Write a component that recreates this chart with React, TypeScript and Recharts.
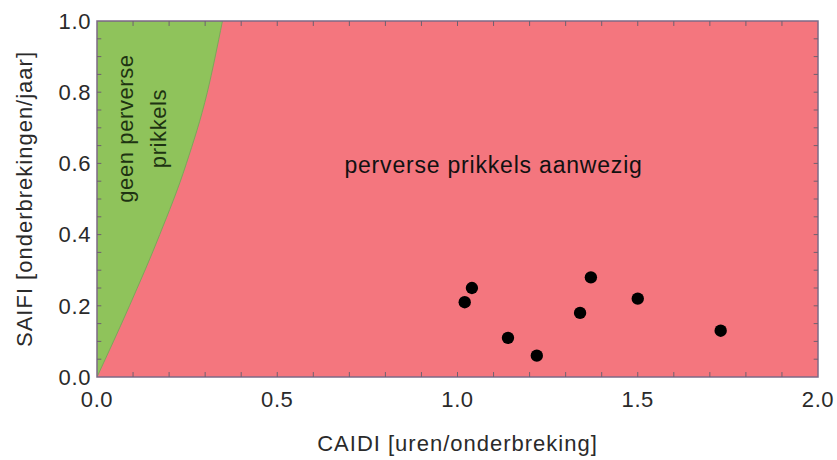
import {
  ComposedChart,
  Area,
  Scatter,
  XAxis,
  YAxis,
  ZAxis,
  CartesianGrid,
  ReferenceArea,
  ReferenceDot,
  ReferenceLine,
  Label,
} from "recharts"

// grens tussen "geen perverse prikkels" en "perverse prikkels aanwezig"
const boundaryX = [0, 0.09, 0.174, 0.248, 0.306, 0.348]
const boundaryY = [0, 0.2, 0.4, 0.6, 0.8, 1.0]

// netbeheerders
const caidi = [1.02, 1.04, 1.14, 1.22, 1.34, 1.37, 1.5, 1.73]
const saifi = [0.21, 0.25, 0.11, 0.06, 0.18, 0.28, 0.22, 0.13]

const xTicks = [0, 0.5, 1.0, 1.5, 2.0]
const yTicks = [0, 0.2, 0.4, 0.6, 0.8, 1.0]
const xMinor = [0.1, 0.2, 0.3, 0.4, 0.5, 0.6, 0.7, 0.8, 0.9, 1.0, 1.1, 1.2, 1.3, 1.4, 1.5, 1.6, 1.7, 1.8, 1.9]
const yMinor = [0.05, 0.1, 0.15, 0.2, 0.25, 0.3, 0.35, 0.4, 0.45, 0.5, 0.55, 0.6, 0.65, 0.7, 0.75, 0.8, 0.85, 0.9, 0.95]

const RED = "#f4767e"
const GREEN = "#8fc35b"
const FONT = "'Liberation Sans', Arial, sans-serif"

const band = boundaryX.map((x, i) => ({ x, band: [boundaryY[i], 1] }))
const points = caidi.map((x, i) => ({ x, y: saifi[i] }))

export default function App() {
  const tickStyle = { fontSize: 22, fill: "#2a2a2a", fontFamily: FONT, letterSpacing: 0.6 }
  const labelStyle = { fontSize: 22, fill: "#2a2a2a", fontFamily: FONT, letterSpacing: 1 }
  return (
    <div style={{ position: "absolute", left: 0, top: 0, background: "#fff" }}>
      <ComposedChart
        width={837}
        height={460}
        data={band}
        margin={{ top: 21, right: 19, left: 0, bottom: 0 }}
      >
        <CartesianGrid horizontal={false} vertical={false} fill={RED} fillOpacity={1} />
        <XAxis
          type="number"
          dataKey="x"
          domain={[0, 2]}
          ticks={xTicks}
          tickFormatter={(v: number) => v.toFixed(1)}
          allowDataOverflow
          height={83}
          tickLine={false}
          axisLine={false}
          tickSize={0}
          tickMargin={14}
          tick={tickStyle}
        >
          <Label value="CAIDI [uren/onderbreking]" position="insideBottom" offset={9} style={labelStyle} />
        </XAxis>
        <YAxis
          type="number"
          domain={[0, 1]}
          ticks={yTicks}
          tickFormatter={(v: number) => v.toFixed(1)}
          allowDataOverflow
          width={97}
          tickLine={false}
          axisLine={false}
          tickSize={0}
          tickMargin={6}
          tick={tickStyle}
        >
          <Label
            value="SAIFI [onderbrekingen/jaar]"
            angle={-90}
            position="insideLeft"
            offset={24}
            style={{ ...labelStyle, textAnchor: "middle" }}
          />
        </YAxis>
        <ZAxis range={[120, 120]} />
        <Area
          type="monotone"
          dataKey="band"
          fill={GREEN}
          fillOpacity={1}
          stroke="#7aa85a"
          strokeWidth={1}
          isAnimationActive={false}
          dot={false}
          activeDot={false}
        />
        <Scatter data={points} dataKey="y" fill="#000" isAnimationActive={false} />
        {xMinor.map((t) => (
          <ReferenceLine
            key={"xb" + t}
            segment={[{ x: t, y: 0 }, { x: t, y: 0.014 }]}
            stroke="#6f6070"
            strokeWidth={1}
          />
        ))}
        {xMinor.map((t) => (
          <ReferenceLine
            key={"xt" + t}
            segment={[{ x: t, y: 1 }, { x: t, y: 0.986 }]}
            stroke="#6f6070"
            strokeWidth={1}
          />
        ))}
        {yMinor.map((t) => (
          <ReferenceLine
            key={"yl" + t}
            segment={[{ x: 0, y: t }, { x: 0.012, y: t }]}
            stroke="#6f6070"
            strokeWidth={1}
          />
        ))}
        {yMinor.map((t) => (
          <ReferenceLine
            key={"yr" + t}
            segment={[{ x: 2, y: t }, { x: 1.988, y: t }]}
            stroke="#6f6070"
            strokeWidth={1}
          />
        ))}
        <ReferenceArea x1={0} x2={2} y1={0} y2={1} fill="none" stroke="#7d6a86" strokeWidth={1.5} />
        <ReferenceDot x={0.078} y={0.698} r={0} fill="none" stroke="none">
          <Label
            value="geen perverse"
            position="center"
            angle={-90}
            style={{ fontSize: 22, fill: "#1e3312", fontFamily: FONT, letterSpacing: 0.6 }}
          />
        </ReferenceDot>
        <ReferenceDot x={0.169} y={0.698} r={0} fill="none" stroke="none">
          <Label
            value="prikkels"
            position="center"
            angle={-90}
            style={{ fontSize: 22, fill: "#1e3312", fontFamily: FONT, letterSpacing: 0.6 }}
          />
        </ReferenceDot>
        <ReferenceDot x={1.1} y={0.596} r={0} fill="none" stroke="none">
          <Label
            value="perverse prikkels aanwezig"
            position="center"
            style={{ fontSize: 23, fill: "#111", fontFamily: FONT, letterSpacing: 0.8 }}
          />
        </ReferenceDot>
      </ComposedChart>
    </div>
  )
}
